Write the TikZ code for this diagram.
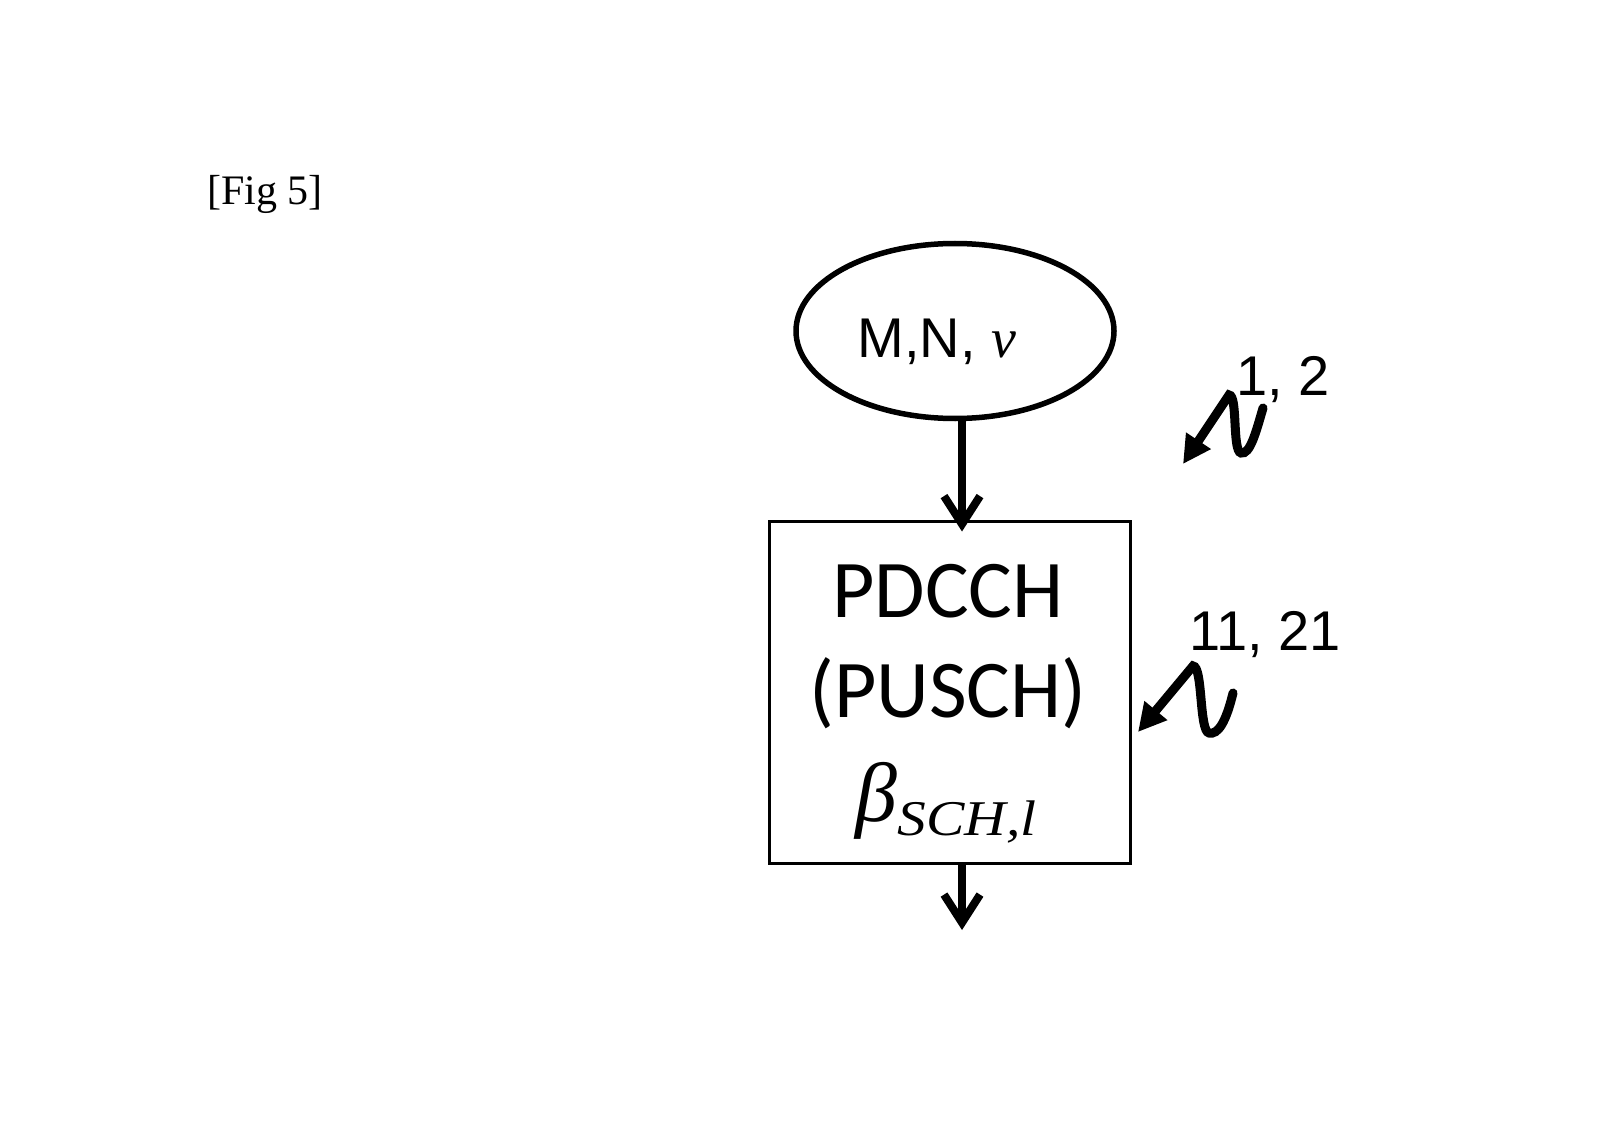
\documentclass[tikz,border=0pt]{standalone}
\usepackage{fontspec}
\usepackage{graphicx}
\setmainfont{Liberation Serif}
\newfontfamily\arialf{Liberation Sans}
\newfontfamily\calf{Carlito}
\newfontfamily\timesf{Liberation Serif}
\usetikzlibrary{arrows.meta,shapes.geometric}
\begin{document}
\begin{tikzpicture}[x=1pt,y=-1pt,
  arr/.style={line width=8pt,-{Straight Barb[length=28pt,width=36pt,line width=8pt]}},
  squig/.style={line width=9pt,line cap=round,-{Triangle[length=28pt,width=28pt]}},
  lab/.style={font=\arialf\fontsize{56}{60}\selectfont,inner sep=0pt,anchor=base west},
  boxtxt/.style={font=\calf\fontsize{82}{90}\selectfont,inner sep=0pt,anchor=base}]
\useasboundingbox[fill=white] (0,0) rectangle (1602,1131);
\node[font=\timesf\fontsize{42}{46}\selectfont,inner sep=0pt,anchor=base west] (fig) at (207,205) {[Fig 5]};
\node[draw,ellipse,line width=5.5pt,minimum width=318pt,minimum height=175pt,inner sep=0pt] (ell) at (955,331) {};
\node[inner sep=0pt,anchor=base] (elltxt) at (937,357) {\arialf\fontsize{56}{60}\selectfont M,N, {\timesf\itshape ν}};
\node[draw,rectangle,line width=3pt,minimum width=361pt,minimum height=342pt,inner sep=0pt] (box) at (950,692) {};
\node[boxtxt] (t1) at (948,617) {PDCCH};
\node[boxtxt] (t2) at (948,717) {(PUSCH)};
\node[inner sep=0pt,anchor=base] (t3) at (946,821) {\timesf\itshape\fontsize{84}{90}\selectfont β\raisebox{-14pt}{\fontsize{50}{54}\selectfont\scalebox{1.15}[1]{SCH,l}}};
\draw[arr,shorten >=-12pt] ([xshift=7pt]ell.south) -- ([xshift=7pt]ell.south |- box.north);
\coordinate (out) at (962,930);
\draw[arr] ([xshift=12pt]box.south) -- (out);
\coordinate (s1a) at (1263,408);
\coordinate (s1d) at (1183,464);
\draw[squig] (s1a) .. controls (1256,432) and (1250,455) .. (1241,453) .. controls (1232,451) and (1238,395) .. (1229,395) -- (s1d);
\coordinate (s2a) at (1233,693);
\coordinate (s2d) at (1138,732);
\draw[squig] (s2a) .. controls (1226,722) and (1218,735) .. (1209,733) .. controls (1199,731) and (1203,666) .. (1193,666) -- (s2d);
\node[lab] (l1) at (1236,395) {1, 2};
\node[lab] (l2) at (1189,650) {11, 21};
\end{tikzpicture}
\end{document}
